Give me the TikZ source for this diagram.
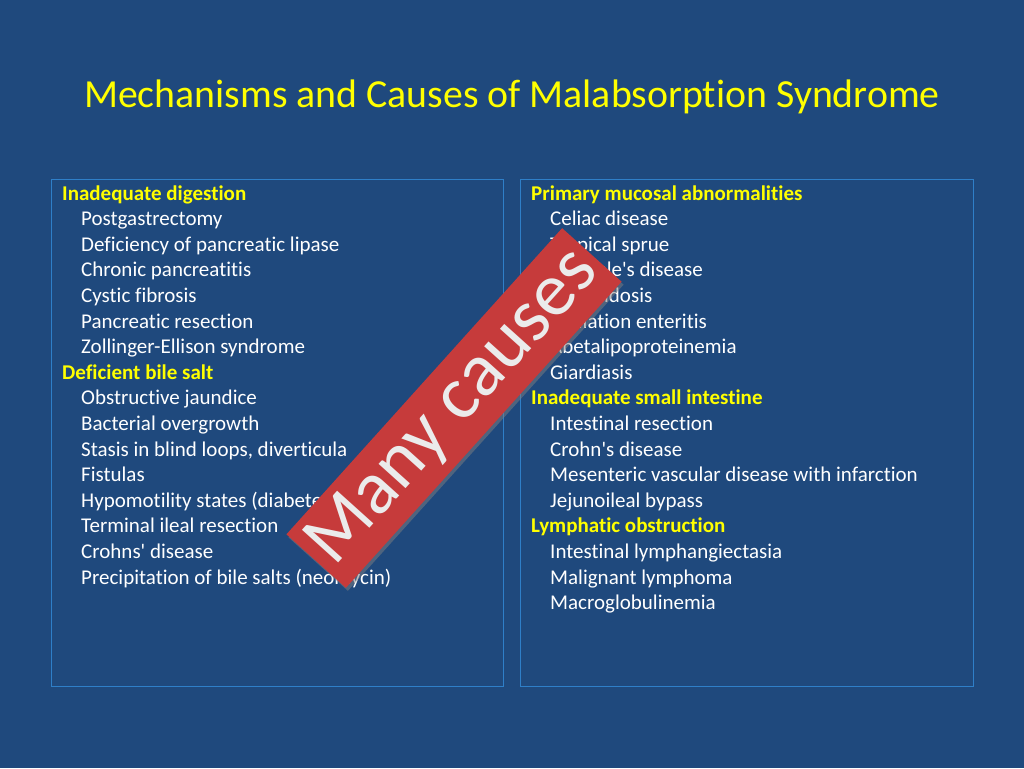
\documentclass[tikz,border=0pt]{standalone}
\usepackage{fontspec}
\setmainfont{Carlito}[Ligatures={NoCommon,NoContextual}]
\usetikzlibrary{shadows}
\definecolor{bg}{HTML}{1F497D}
\definecolor{bord}{HTML}{2F7FC8}
\definecolor{ttl}{HTML}{FFFF00}
\definecolor{ban}{HTML}{C63B3B}
\newcommand{\ap}{\textquotesingle}
\begin{document}
\begin{tikzpicture}[x=1pt,y=-1pt,
  item/.style={anchor=base west,inner sep=0pt,text=white,font=\fontsize{21}{24}\selectfont},
  head/.style={item,text=ttl,font=\fontsize{21}{24}\selectfont\bfseries},
  panel/.style={draw=bord,line width=1pt}]
\fill[bg] (0,0) rectangle (1024,768);
\useasboundingbox (0,0) rectangle (1024,768);
\node[text=ttl,font=\fontsize{39.8}{44}\selectfont] (title) at (512,97) {Mechanisms and Causes of Malabsorption Syndrome};
\draw[panel] (51,179) rectangle (503,686);
\draw[panel] (520,179) rectangle (973,686);
\def\ls{25.6}
\def\by{200}
\foreach \t [count=\i from 0] in {Inadequate digestion,,,,,,,Deficient bile salt}{
  \node[head] (lh\i) at (62,\by+\i*\ls) {\t};}
\foreach \t [count=\i from 1] in {Postgastrectomy,Deficiency of pancreatic lipase,Chronic pancreatitis,Cystic fibrosis,Pancreatic resection,Zollinger-Ellison syndrome}{
  \node[item] (li\i) at (81,\by+\i*\ls) {\t};}
\foreach \t [count=\i from 8] in {Obstructive jaundice,Bacterial overgrowth,{Stasis in blind loops, diverticula},Fistulas,Hypomotility states (diabetes),Terminal ileal resection,Crohns\ap\ disease,Precipitation of bile salts (neomycin)}{
  \node[item] (lj\i) at (81,\by+\i*\ls) {\t};}
\node[head] (rh0) at (531,\by) {Primary mucosal abnormalities};
\node[head] (rh8) at (531,\by+8*\ls) {Inadequate small intestine};
\node[head] (rh13) at (531,\by+13*\ls) {Lymphatic obstruction};
\foreach \t [count=\i from 1] in {Celiac disease,Tropical sprue,Whipple\ap s disease,Amyloidosis,Radiation enteritis,Abetalipoproteinemia,Giardiasis}{
  \node[item] (ri\i) at (550,\by+\i*\ls) {\t};}
\foreach \t [count=\i from 9] in {Intestinal resection,Crohn\ap s disease,Mesenteric vascular disease with infarction,Jejunoileal bypass}{
  \node[item] (rj\i) at (550,\by+\i*\ls) {\t};}
\foreach \t [count=\i from 14] in {Intestinal lymphangiectasia,Malignant lymphoma,Macroglobulinemia}{
  \node[item] (rk\i) at (550,\by+\i*\ls) {\t};}
\node[fill=ban,rotate=48,minimum width=412,minimum height=80,inner sep=0pt,
  drop shadow={shadow xshift=2pt,shadow yshift=-3pt,opacity=0.5},
  text=white!92!black,font=\fontsize{76}{76}\selectfont] (banner) at (454,408) {Many causes};
\end{tikzpicture}
\end{document}
